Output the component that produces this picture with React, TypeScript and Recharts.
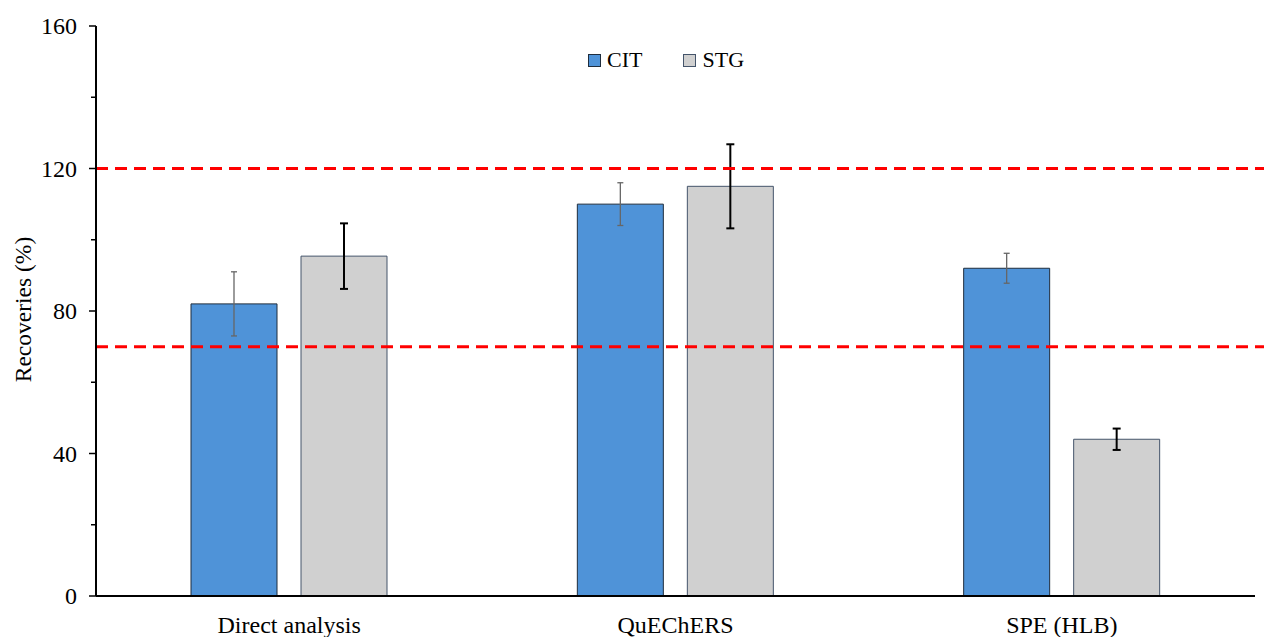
import React from 'react';
import {
  BarChart,
  Bar,
  XAxis,
  YAxis,
  ErrorBar,
  ReferenceLine,
  Legend,
} from 'recharts';

// Extraction methods on the category axis
const methods = ['Direct analysis', 'QuEChERS', 'SPE (HLB)'];

// Mean recoveries (%) and their standard deviations
const citValues = [82, 110, 92];
const citErrors = [9, 6, 4.2];
const stgValues = [95.4, 115, 44];
const stgErrors = [9.2, 11.8, 3];

// Acceptable recovery range limits (%)
const upperLimit = 120;
const lowerLimit = 70;

const yTicks = [0, 20, 40, 60, 80, 100, 120, 140, 160];
const labelledTicks = [0, 40, 80, 120, 160];

const seriesNames = ['CIT', 'STG'];

const data = methods.map((method, i) => ({
  method,
  CIT: citValues[i],
  citErr: citErrors[i],
  STG: stgValues[i],
  stgErr: stgErrors[i],
}));

const FONT = 'Liberation Serif';
const CIT_FILL = '#4F93D8';
const CIT_STROKE = '#1F2D3D';
const STG_FILL = '#D0D0D0';
const STG_STROKE = '#44546A';

const TICK_OFFSET = 19;

const YTick = (props: any) => {
  const { x, y, payload } = props;
  const v = payload.value;
  const major = labelledTicks.includes(v);
  const axisX = x + TICK_OFFSET;
  return (
    <g>
      <line
        x1={axisX - (major ? 7 : 5)}
        x2={axisX}
        y1={y}
        y2={y}
        stroke="#000"
        strokeWidth={1.5}
      />
      {major && (
        <text
          x={x}
          y={y}
          dy="0.35em"
          textAnchor="end"
          style={{ fontFamily: FONT }}
          fontSize={24}
          fill="#000"
        >
          {v}
        </text>
      )}
    </g>
  );
};

const XTick = (props: any) => {
  const { x, y, payload } = props;
  return (
    <text
      x={x}
      y={y}
      dy="0.71em"
      textAnchor="middle"
      style={{ fontFamily: FONT }}
      fontSize={24}
      fill="#000"
    >
      {payload.value}
    </text>
  );
};

const YLabel = (props: any) => {
  const { viewBox } = props;
  const cy = viewBox.y + viewBox.height / 2 - 1.5;
  const cx = 31;
  return (
    <text
      x={cx}
      y={cy}
      transform={`rotate(-90, ${cx}, ${cy})`}
      textAnchor="middle"
      style={{ fontFamily: FONT }}
      fontSize={23.5}
      fill="#000"
    >
      Recoveries (%)
    </text>
  );
};

const LegendContent = () => {
  const items = [
    { name: seriesNames[0], fill: CIT_FILL, stroke: CIT_STROKE },
    { name: seriesNames[1], fill: STG_FILL, stroke: STG_STROKE },
  ];
  return (
    <div style={{ display: 'flex', alignItems: 'center', fontFamily: FONT, fontSize: 22, lineHeight: '22px', color: '#000' }}>
      {items.map((it, i) => (
        <div key={it.name} style={{ display: 'flex', alignItems: 'center', marginRight: i === 0 ? 41 : 0 }}>
          <span
            style={{
              display: 'inline-block',
              width: 11,
              height: 11,
              background: it.fill,
              border: `1px solid ${it.stroke}`,
              marginRight: 6,
            }}
          />
          <span>{it.name}</span>
        </div>
      ))}
    </div>
  );
};

const LimitLine = (props: any) => {
  const { x1, x2, y1, y2, stroke, strokeWidth, strokeDasharray } = props;
  return (
    <line
      x1={x1}
      x2={x2 + 12}
      y1={y1}
      y2={y2}
      stroke={stroke}
      strokeWidth={strokeWidth}
      strokeDasharray={strokeDasharray}
    />
  );
};

export default function App() {
  return (
    <div style={{ position: 'absolute', left: 0, top: 0, background: '#fff', fontFamily: FONT }}>
      <BarChart
        width={1264}
        height={637}
        data={data}
        margin={{ top: 26, right: 9, left: 0, bottom: 0 }}
        barSize={86}
        barGap={24}
        style={{ fontFamily: FONT }}
      >
        <XAxis
          dataKey="method"
          height={41}
          tickLine={false}
          tickSize={0}
          tickMargin={20}
          axisLine={{ stroke: '#000', strokeWidth: 2 }}
          tick={<XTick />}
          interval={0}
        />
        <YAxis
          width={96}
          domain={[0, 160]}
          ticks={yTicks}
          interval={0}
          tickLine={false}
          tickSize={0}
          tickMargin={TICK_OFFSET}
          axisLine={{ stroke: '#000', strokeWidth: 2 }}
          tick={<YTick />}
          label={<YLabel />}
        />
        <Legend
          layout="horizontal"
          verticalAlign="middle"
          align="center"
          content={<LegendContent />}
          wrapperStyle={{ position: 'absolute', left: 588, top: 49, width: 'auto' }}
        />
        <Bar
          dataKey="CIT"
          name={seriesNames[0]}
          fill={CIT_FILL}
          stroke={CIT_STROKE}
          strokeWidth={1}
          isAnimationActive={false}
        >
          <ErrorBar dataKey="citErr" width={3} stroke="#666" strokeWidth={1.3} direction="y" />
        </Bar>
        <Bar
          dataKey="STG"
          name={seriesNames[1]}
          fill={STG_FILL}
          stroke={STG_STROKE}
          strokeWidth={1}
          isAnimationActive={false}
        >
          <ErrorBar dataKey="stgErr" width={4} stroke="#000" strokeWidth={2} direction="y" />
        </Bar>
        <ReferenceLine
          y={upperLimit}
          stroke="#FF0000"
          strokeWidth={3}
          strokeDasharray="12 7"
          shape={<LimitLine />}
        />
        <ReferenceLine
          y={lowerLimit}
          stroke="#FF0000"
          strokeWidth={3}
          strokeDasharray="12 7"
          shape={<LimitLine />}
        />
      </BarChart>
    </div>
  );
}
